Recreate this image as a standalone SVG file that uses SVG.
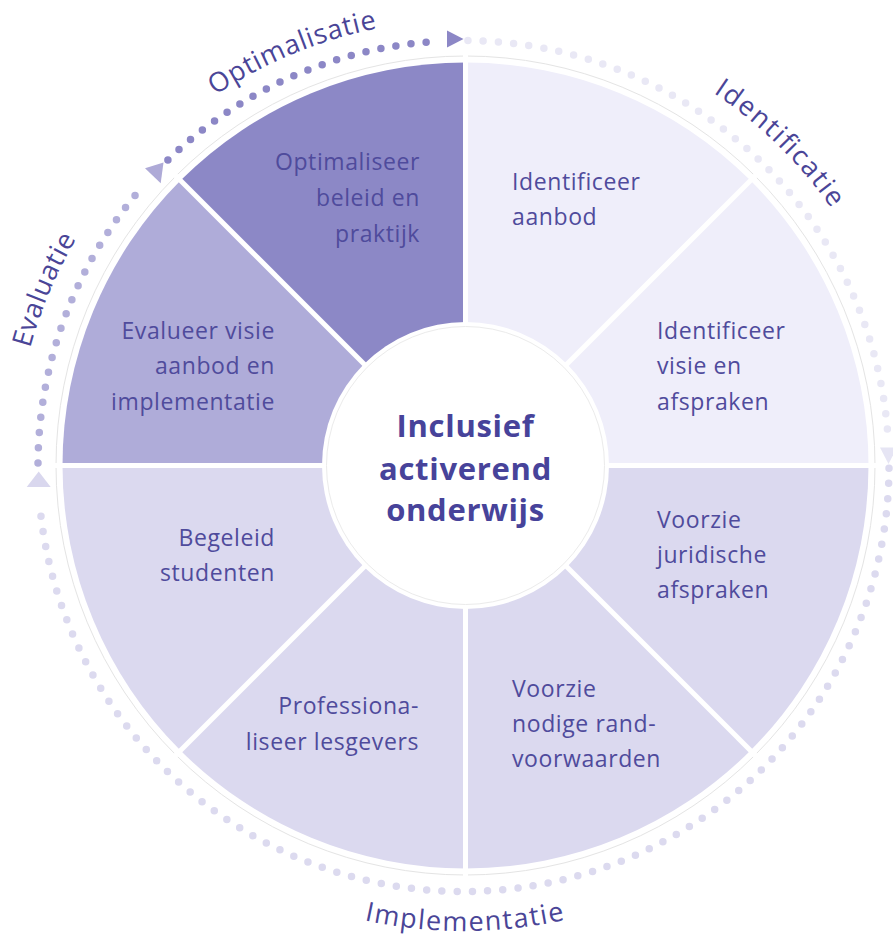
<svg xmlns="http://www.w3.org/2000/svg" xmlns:xlink="http://www.w3.org/1999/xlink" width="893" height="938" viewBox="0 0 893 938">
<style>
.lbl{font-family:"Open Sans","Noto Sans","Liberation Sans",sans-serif;font-size:23px;letter-spacing:0.6px;fill:#4f4b9c}
.end{text-anchor:end}
.ctr{font-family:"Open Sans","Noto Sans","Liberation Sans",sans-serif;font-size:31px;font-weight:700;fill:#47439a;text-anchor:middle;letter-spacing:0.7px}
.arc{font-family:"Open Sans","Noto Sans","Liberation Sans",sans-serif;font-size:27px;font-weight:500;fill:#4a4597}
.dots{fill:none;stroke-width:7.5;stroke-linecap:round}
.sep{stroke:#ffffff;stroke-width:5}
</style>
<defs>
<path id="pOpt" d="M215.4 95.4 A446 446 0 0 1 540.9 26.8"/>
<path id="pIde" d="M713.3 92.9 A449 449 0 0 1 885.4 312.4"/>
<path id="pEva" d="M30.2 348.3 A449 449 0 0 1 146 148.5"/>
<path id="pImp" d="M364.4 920.3 A465 465 0 0 0 622.5 903"/>
</defs>
<rect width="893" height="938" fill="#ffffff"/>

<g id="ring">
<circle cx="465.5" cy="465.5" r="409.5" fill="none" stroke="#e4e4e4" stroke-width="1"/>
</g>

<g id="node-identificeer-aanbod">
<path d="M465.5 465.5 L465.5 62.5 A403 403 0 0 1 750.5 180.5 Z" fill="#efeefa"/>
<text class="lbl" x="512" y="190">Identificeer</text>
<text class="lbl" x="512" y="225">aanbod</text>
</g>
<g id="node-identificeer-visie">
<path d="M465.5 465.5 L750.5 180.5 A403 403 0 0 1 868.5 465.5 Z" fill="#efeefa"/>
<text class="lbl" x="657" y="339">Identificeer</text>
<text class="lbl" x="657" y="374">visie en</text>
<text class="lbl" x="657" y="410">afspraken</text>
</g>
<g id="node-juridische">
<path d="M465.5 465.5 L868.5 465.5 A403 403 0 0 1 750.5 750.5 Z" fill="#dbd9ef"/>
<text class="lbl" x="657" y="528">Voorzie</text>
<text class="lbl" x="657" y="563">juridische</text>
<text class="lbl" x="657" y="598">afspraken</text>
</g>
<g id="node-randvoorwaarden">
<path d="M465.5 465.5 L750.5 750.5 A403 403 0 0 1 465.5 868.5 Z" fill="#dbd9ef"/>
<text class="lbl" x="512" y="697">Voorzie</text>
<text class="lbl" x="512" y="732">nodige rand-</text>
<text class="lbl" x="512" y="767">voorwaarden</text>
</g>
<g id="node-professionaliseer">
<path d="M465.5 465.5 L465.5 868.5 A403 403 0 0 1 180.5 750.5 Z" fill="#dbd9ef"/>
<text class="lbl end" x="419" y="714">Professiona-</text>
<text class="lbl end" x="419" y="750">liseer lesgevers</text>
</g>
<g id="node-begeleid">
<path d="M465.5 465.5 L180.5 750.5 A403 403 0 0 1 62.5 465.5 Z" fill="#dbd9ef"/>
<text class="lbl end" x="275" y="546">Begeleid</text>
<text class="lbl end" x="275" y="581">studenten</text>
</g>
<g id="node-evalueer">
<path d="M465.5 465.5 L62.5 465.5 A403 403 0 0 1 180.5 180.5 Z" fill="#afacd9"/>
<text class="lbl end" x="275" y="339">Evalueer visie</text>
<text class="lbl end" x="275" y="374">aanbod en</text>
<text class="lbl end" x="275" y="410">implementatie</text>
</g>
<g id="node-optimaliseer">
<path d="M465.5 465.5 L180.5 180.5 A403 403 0 0 1 465.5 62.5 Z" fill="#8c88c6"/>
<text class="lbl end" x="420" y="170">Optimaliseer</text>
<text class="lbl end" x="420" y="206">beleid en</text>
<text class="lbl end" x="420" y="242">praktijk</text>
</g>

<g id="separators">
<line class="sep" x1="465.5" y1="55" x2="465.5" y2="876"/>
<line class="sep" x1="55" y1="465.5" x2="876" y2="465.5"/>
<line class="sep" x1="175" y1="175" x2="756" y2="756"/>
<line class="sep" x1="175" y1="756" x2="756" y2="175"/>
</g>

<g id="node-center">
<circle cx="465.5" cy="465.5" r="143.5" fill="#ffffff"/>
<circle cx="465.5" cy="465.5" r="139" fill="none" stroke="#ebebeb" stroke-width="1"/>
<text class="ctr" x="465.5" y="437">Inclusief</text>
<text class="ctr" x="465.5" y="480">activerend</text>
<text class="ctr" x="465.5" y="521">onderwijs</text>
</g>

<g id="connectors">
<path class="dots" stroke="#b2afda" stroke-dasharray="0 15.26" d="M38 463 A425.5 425.5 0 0 1 144.8 184.1"/>
<polygon points="145,168.3 160.7,183.3 163.5,162.5" fill="#aeaad7"/>
<path class="dots" stroke="#8c87c6" stroke-dasharray="0 15.22" d="M167.9 159.9 A425.5 425.5 0 0 1 441.2 41.1"/>
<polygon points="447,30.5 447,47.5 463.5,39" fill="#8c87c6"/>
<path class="dots" stroke="#e9e8f5" stroke-dasharray="0 15.28" d="M467.95 40.5 A425.5 425.5 0 0 1 888.4 443.7"/>
<polygon points="880,447.5 897,447.5 888.5,464" fill="#e6e5f4"/>
<path class="dots" stroke="#dcdaef" stroke-dasharray="0 15.28" d="M889 468.2 A425.5 425.5 0 0 1 39.5 501.6"/>
<polygon points="26.7,487 50.7,487 38.7,471.5" fill="#d9d7ee"/>
</g>

<g id="arc-labels">
<text class="arc"><textPath xlink:href="#pOpt" href="#pOpt" textLength="176" lengthAdjust="spacing">Optimalisatie</textPath></text>
<text class="arc"><textPath xlink:href="#pIde" href="#pIde" textLength="166" lengthAdjust="spacing">Identificatie</textPath></text>
<text class="arc"><textPath xlink:href="#pEva" href="#pEva" textLength="119" lengthAdjust="spacing">Evaluatie</textPath></text>
<text class="arc"><textPath xlink:href="#pImp" href="#pImp" textLength="202" lengthAdjust="spacing">Implementatie</textPath></text>
</g>
</svg>
